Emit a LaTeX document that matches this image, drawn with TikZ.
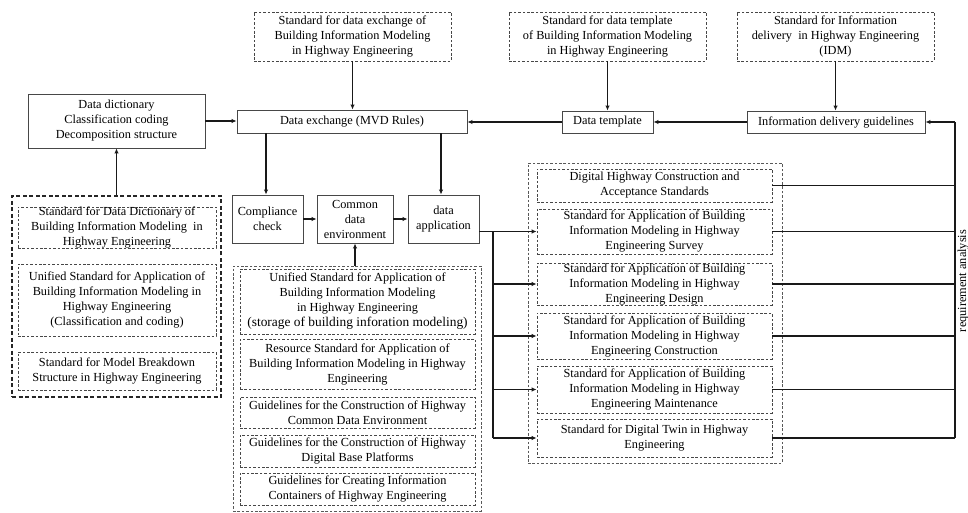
\documentclass[tikz,border=0pt]{standalone}
\usepackage{fontspec}
\setmainfont{Liberation Serif}
\usetikzlibrary{arrows.meta}

% frame from its corners: name, style, x1, y1, x2, y2
\newcommand\mkframe[6]{%
  \pgfmathsetmacro\bcx{(#3+#5)/2}\pgfmathsetmacro\bcy{(#4+#6)/2}%
  \pgfmathsetmacro\bw{#5-#3}\pgfmathsetmacro\bh{#6-#4}%
  \node[#2, minimum width=\bw pt, minimum height=\bh pt] (#1) at (\bcx,\bcy) {};}
% box with its text centred on it; the text may run over the border
\newcommand\mkbox[7]{%
  \mkframe{#1}{#2}{#3}{#4}{#5}{#6}%
  \node[boxtext] (#1-t) at (#1.center) {#7};}

\begin{document}
\begin{tikzpicture}[x=1pt,y=-1pt,
  every node/.style={inner sep=0pt},
  boxtext/.style={font=\fontsize{12.3}{15}\selectfont, align=center},
  solidbox/.style={draw=black!72, line width=0.9pt},
  dbox/.style={draw=black!72, line width=0.8pt, dash pattern=on 2.6pt off 1.8pt},
  grp/.style={draw=black!65, line width=0.8pt, dash pattern=on 2.6pt off 1.8pt},
  grpbold/.style={draw=black!85, line width=1.3pt, dash pattern=on 4pt off 2.5pt},
  link/.style={draw=black!90, line width=1.4pt},
  arr/.style={link, -{Latex[length=5pt,width=4.5pt]}}
]
\useasboundingbox (0,0) rectangle (968,513);
\fill[white] (0,0) rectangle (968,513);

% group frames
\mkframe{lgrp}{grpbold}{12}{196}{221}{397}
\mkframe{mgrp}{grp}{233}{266}{481}{511}
\mkframe{rgrp}{grp}{528}{163}{782}{463}

% standards at the top
\mkbox{topA}{dbox}{254}{12}{451}{61}{Standard for data exchange of\\Building Information Modeling\\in Highway Engineering}
\mkbox{topB}{dbox}{509}{12}{706}{61}{Standard for data template\\of Building Information Modeling\\in Highway Engineering}
\mkbox{topC}{dbox}{737}{12}{934}{61}{Standard for Information\\delivery~ in Highway Engineering\\(IDM)}

% main row
\mkbox{dict}{solidbox}{28}{94}{205}{148}{Data dictionary\\Classification coding\\Decomposition structure}
\mkbox{mvd}{solidbox}{237}{110}{467}{133}{Data exchange (MVD Rules)}
\mkbox{tmpl}{solidbox}{562}{111}{653}{133}{Data template}
\mkbox{idg}{solidbox}{747}{111}{925}{133}{Information delivery guidelines}

% left column
\mkbox{l1}{dbox}{18}{207}{216}{248}{Standard for Data Dictionary of\\Building Information Modeling~ in\\Highway Engineering}
\mkbox{l2}{dbox}{18}{264}{216}{336}{Unified Standard for Application of\\Building Information Modeling in\\Highway Engineering\\(Classification and coding)}
\mkbox{l3}{dbox}{18}{352}{216}{390}{Standard for Model Breakdown\\Structure in Highway Engineering}

% processing row
\mkbox{cc}{solidbox}{232}{195}{303}{243}{Compliance\\check}
\mkbox{cde}{solidbox}{317}{195}{393}{243}{Common\\data\\environment}
\mkbox{dapp}{solidbox}{408}{195}{479}{243}{data\\application}

% middle column
\mkbox{m1}{dbox}{240}{269}{475}{334}{Unified Standard for Application of\\Building Information Modeling\\in Highway Engineering\\{\fontsize{13.4}{15}\selectfont(storage of building inforation modeling)}}
\mkbox{m2}{dbox}{240}{339}{475}{389}{Resource Standard for Application of\\Building Information Modeling in Highway\\Engineering}
\mkbox{m3}{dbox}{240}{397}{475}{428}{Guidelines for the Construction of Highway\\Common Data Environment}
\mkbox{m4}{dbox}{240}{435}{475}{467}{Guidelines for the Construction of Highway\\Digital Base Platforms}
\mkbox{m5}{dbox}{240}{473}{475}{505}{Guidelines for Creating Information\\Containers of Highway Engineering}

% right column
\mkbox{r1}{dbox}{537}{169}{772}{202}{Digital Highway Construction and\\Acceptance Standards}
\mkbox{r2}{dbox}{537}{209}{772}{254}{Standard for Application of Building\\Information Modeling in Highway\\Engineering Survey}
\mkbox{r3}{dbox}{537}{263}{772}{305}{Standard for Application of Building\\Information Modeling in Highway\\Engineering Design}
\mkbox{r4}{dbox}{537}{313}{772}{359}{Standard for Application of Building\\Information Modeling in Highway\\Engineering Construction}
\mkbox{r5}{dbox}{537}{366}{772}{413}{Standard for Application of Building\\Information Modeling in Highway\\Engineering Maintenance}
\mkbox{r6}{dbox}{537}{419}{772}{457}{Standard for Digital Twin in Highway\\Engineering}

% feedback label
\node[boxtext, rotate=90, anchor=base] (req) at (966,281) {requirement analysis};

% bus lines
\coordinate (bx) at (493,0);
\coordinate (rx) at (955,0);
\coordinate (cx) at (266,0);
\coordinate (ax) at (441,0);

% connectors
\draw[arr] (topA.south) -- (topA.south |- mvd.north);
\draw[arr] (topB.south) -- (topB.south |- tmpl.north);
\draw[arr] (topC.south) -- (topC.south |- idg.north);
\draw[arr] (dict.east) -- (dict.east -| mvd.west);
\draw[arr] (idg.west) -- (tmpl.east);
\draw[arr] (tmpl.west) -- (tmpl.west -| mvd.east);
\draw[arr] (dict.south |- lgrp.north) -- (dict.south);
\draw[arr] (cx |- mvd.south) -- (cx |- cc.north);
\draw[arr] (ax |- mvd.south) -- (ax |- dapp.north);
\draw[arr] (cc.east) -- (cde.west);
\draw[arr] (cde.east) -- (dapp.west);
\draw[arr] (cde.south |- mgrp.north) -- (cde.south);

% data application to the application standards
\draw[arr] (dapp.east |- r2.west) -- (r2.west);
\draw[link] (bx |- r2.west) -- (bx |- r6.west);
\foreach \r in {r3,r4,r5,r6}
  \draw[arr] (bx |- \r.west) -- (\r.west);

% requirement analysis back to information delivery
\foreach \r in {r1,r2,r3,r4,r5,r6}
  \draw[link] (\r.east) -- (\r.east -| rx);
\draw[link] (rx |- r6.east) -- (rx |- idg.east);
\draw[arr] (rx |- idg.east) -- (idg.east);
\end{tikzpicture}
\end{document}
